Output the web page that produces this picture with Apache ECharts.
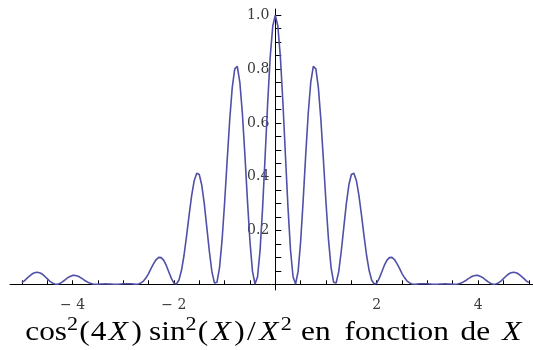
<!DOCTYPE html>
<html>
<head>
<meta charset="utf-8">
<script src="https://cdn.jsdelivr.net/npm/echarts@6/dist/echarts.min.js"></script>
<style>html,body{margin:0;padding:0;background:#fff}#c{width:533px;height:350px}</style>
</head>
<body>
<div id="c"></div>
<script>
// sampled curve, x from -5 to 5 every 0.05
const xStart = -5;
const xStep = 0.05;
const yValues = [
.006,.013,.022,.030,.038,.043,.045,.043,.038,.030,
.021,.012,.005,.001,.000,.003,.009,.016,.024,.029,
.033,.033,.031,.026,.020,.013,.008,.004,.001,.000,
.000,.001,.001,.002,.001,.001,.000,.000,.000,.001,
.002,.002,.002,.002,.001,.000,.001,.005,.012,.024,
.040,.059,.077,.092,.100,.099,.089,.070,.046,.022,
.004,.001,.016,.052,.108,.180,.257,.330,.385,.413,
.408,.368,.298,.210,.121,.046,.005,.008,.062,.164,
.303,.459,.609,.730,.801,.810,.752,.637,.482,.313,
.159,.048,.001,.028,.127,.286,.479,.676,.846,.960,
1.000,
.960,.846,.676,.479,.286,.127,.028,.001,.048,.159,
.313,.482,.637,.752,.810,.801,.730,.609,.459,.303,
.164,.062,.008,.005,.046,.121,.210,.298,.368,.408,
.413,.385,.330,.257,.180,.108,.052,.016,.001,.004,
.022,.046,.070,.089,.099,.100,.092,.077,.059,.040,
.024,.012,.005,.001,.000,.001,.002,.002,.002,.002,
.001,.000,.000,.000,.001,.001,.002,.001,.001,.000,
.000,.001,.004,.008,.013,.020,.026,.031,.033,.033,
.029,.024,.016,.009,.003,.000,.001,.005,.012,.021,
.030,.038,.043,.045,.043,.038,.030,.022,.013,.006
];
const xTickValues = [-5,-4.5,-4,-3.5,-3,-2.5,-2,-1.5,-1,-0.5,0.5,1,1.5,2,2.5,3,3.5,4,4.5,5];
const xLabelValues = [-4,-2,2,4];
const yTickValues = [0.05,0.1,0.15,0.2,0.25,0.3,0.35,0.4,0.45,0.5,0.55,0.6,0.65,0.7,0.75,0.8,0.85,0.9,0.95,1.0];
const yLabelValues = [0.2,0.4,0.6,0.8,1.0];

const xMin = -5.233, xMax = 5.083;
const gridLeft = 10, gridWidth = 523;

const seriesData = yValues.map((v, i) => [+(xStart + i * xStep).toFixed(2), v]);

const chart = echarts.init(document.getElementById('c'), null, {renderer: 'canvas'});
const tickFont = {fontFamily: 'DejaVu Serif', fontSize: 14, color: '#3a3a3a'};
const F = 27;
const base = {fontFamily: 'Liberation Serif', fontSize: F, lineHeight: 30, verticalAlign: 'bottom', fill: '#000'};
const rich = {
  n: Object.assign({}, base),
  x: Object.assign({}, base, {fontStyle: 'italic', padding: [0, 2, 0, 2]}),
  p: Object.assign({}, base, {padding: [0, 1, 0, 1]}),
  s: {fontFamily: 'Liberation Serif', fontSize: 19, lineHeight: 19, padding: [0, 0, 11, 0], verticalAlign: 'bottom', fill: '#000'}
};
function titlePiece(x, text, align) {
  return {
    type: 'text', x: x, y: 331, scaleX: 1.16, silent: true,
    style: {text: text, rich: rich, align: align || 'left', verticalAlign: 'middle',
            fontFamily: 'Liberation Serif', fontSize: F, fill: '#000'}
  };
}
// y axis sits at x = 0: shift it inward from the grid's left edge
const yAxisOffset = -((0 - xMin) / (xMax - xMin) * gridWidth);
chart.setOption({
  animation: false,
  backgroundColor: '#fff',
  grid: {left: gridLeft, width: gridWidth, top: 9, bottom: 60, containLabel: false, outerBoundsMode: 'none'},
  xAxis: {
    type: 'value', min: xMin, max: xMax,
    axisLine: {onZero: true, lineStyle: {color: '#000', width: 1}},
    axisTick: {show: true, inside: true, length: 4, customValues: xTickValues, lineStyle: {color: '#000'}},
    axisLabel: Object.assign({customValues: xLabelValues, margin: 8,
      formatter: v => v < 0 ? '\u2212 ' + Math.abs(v) : String(v)}, tickFont),
    splitLine: {show: false}
  },
  yAxis: {
    type: 'value', min: -0.0212, max: 1.0234,
    position: 'left', offset: yAxisOffset,
    axisLine: {onZero: false, lineStyle: {color: '#000', width: 1}},
    axisTick: {show: true, inside: true, length: 6, customValues: yTickValues, lineStyle: {color: '#000'}},
    axisLabel: Object.assign({customValues: yLabelValues, margin: 6, padding: [3, 0, 0, 0],
      formatter: v => v.toFixed(1)}, tickFont),
    splitLine: {show: false}
  },
  series: [{
    type: 'line', data: seriesData, showSymbol: false, smooth: false,
    lineStyle: {color: '#5050a8', width: 1.6}, z: 1
  }],
  graphic: [
    titlePiece(25.3, '{n|cos}{s|2}{p|(}{n|4}{x|X}{p|)}'),
    titlePiece(291.7, '{n|sin}{s|2}{p|(}{x|X}{p|)}{p|/}{x|X}{s|2}', 'right'),
    titlePiece(301, '{n|en}'),
    titlePiece(344.5, '{n|fonction}'),
    titlePiece(460.5, '{n|de}'),
    titlePiece(500, '{x|X}')
  ]
});
</script>
</body>
</html>
